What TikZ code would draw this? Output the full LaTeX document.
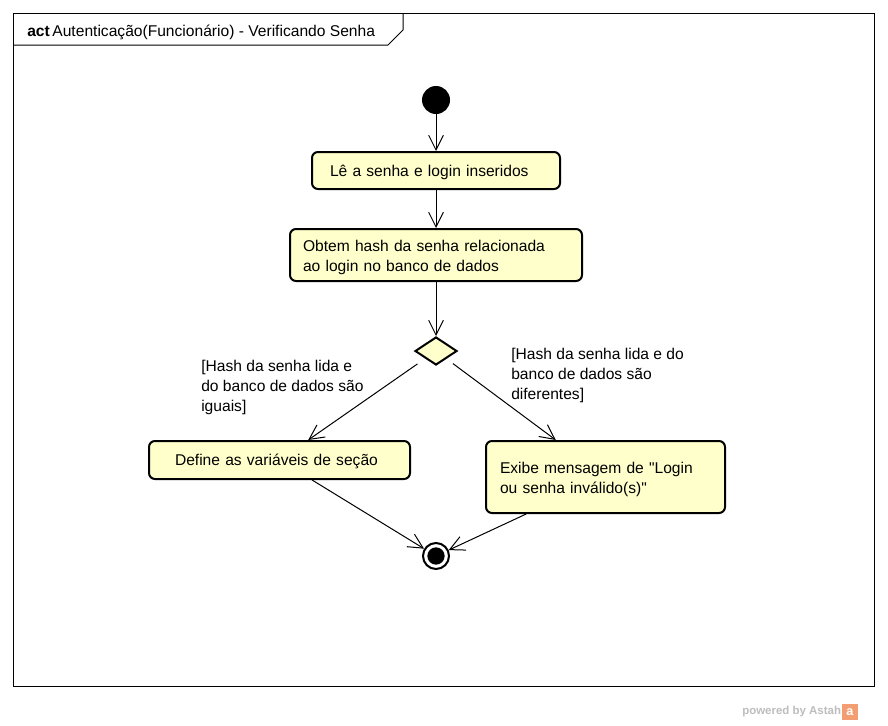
\documentclass[tikz,border=0pt]{standalone}
\usepackage{fontspec}
\setmainfont{Liberation Sans}[Ligatures=TeXOff]
\usetikzlibrary{arrows.meta,shapes.geometric}
\definecolor{actfill}{HTML}{FFFFCC}
\definecolor{astah}{HTML}{F29D72}

\begin{document}
\begin{tikzpicture}[x=0.75pt,y=-0.75pt,
  font=\fontsize{11.7}{15}\selectfont,
  act/.style={draw,line width=1.5pt,rounded corners=4.5pt,fill=actfill,align=left,text depth=-3.5pt},
  act2/.style={act,text depth=14pt},
  flow/.style={-{Straight Barb[length=11pt,width=11pt]},line width=0.75pt},
  guard/.style={anchor=north west,align=left,inner sep=0pt}]
  \useasboundingbox (0,0) rectangle (888,725);
  % frame and title
  \draw[line width=0.75pt] (13,13) rectangle (874,686);
  \draw[line width=0.75pt] (13,45) -- (388,45) -- (403,30) -- (403,13);
  \node[anchor=west,inner sep=0pt] (title) at (27,32.5) {\textbf{act}\,Autenticação(Funcionário) - Verificando Senha};
  % nodes
  \node[circle,fill=black,minimum size=21pt,inner sep=0pt] (start) at (436,100) {};
  \node[act,text width=159pt,inner xsep=13.5pt,minimum height=27.75pt] (le) at (436,170.5) {Lê a senha e login inseridos};
  \node[act2,text width=199.5pt,inner xsep=9.75pt,minimum height=39pt] (hash) at (436,255) {Obtem hash da senha relacionada\\ao login no banco de dados};
  \node[diamond,draw,line width=1.5pt,fill=actfill,minimum width=31.5pt,minimum height=21pt,inner sep=0pt] (dec) at (436,351) {};
  \node[act,text width=156.75pt,inner xsep=19.5pt,minimum height=28.5pt] (sessao) at (279.5,460) {Define as variáveis de seção};
  \node[act2,text width=158.25pt,inner xsep=10.5pt,minimum height=54pt] (erro) at (605.5,477) {Exibe mensagem de "Login\\ou senha inválido(s)"};
  \node[circle,draw,line width=1.5pt,minimum size=19.5pt,inner sep=0pt,
    path picture={\fill (path picture bounding box.center) circle (6.5pt);}] (fim) at (436,556) {};
  % guards
  \node[guard] (iguais) at (201,360) {[Hash da senha lida e\\do banco de dados são\\iguais]};
  \node[guard] (diferentes) at (511,348) {[Hash da senha lida e do\\banco de dados são\\diferentes]};
  % flows
  \draw[flow] (start) -- (le);
  \draw[flow] (le) -- (hash);
  \draw[flow] (hash) -- (dec);
  \draw[flow,shorten <=7pt] (dec) -- (sessao);
  \draw[flow,shorten <=6pt] (dec) -- (erro);
  \draw[flow] (sessao) -- (fim);
  \draw[flow] (erro) -- (fim);
  % watermark
  \node[anchor=west,inner sep=0pt,text=black!26,font=\fontsize{8.6}{10}\selectfont\bfseries] (powered) at (742,712) {powered by Astah};
  \node[fill=astah,minimum size=12.5pt,inner sep=0pt,anchor=west,text=white,font=\fontsize{9.5}{10}\selectfont\bfseries] (logo) at (powered.east) {a};
\end{tikzpicture}
\end{document}
